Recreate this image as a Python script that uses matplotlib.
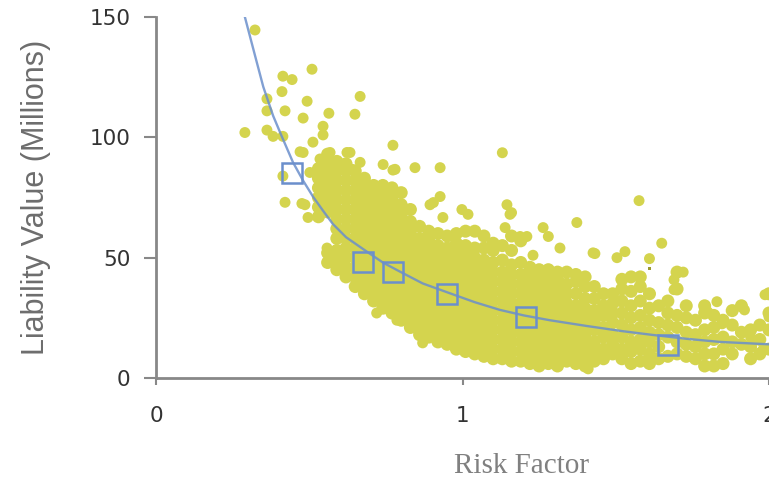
import matplotlib.pyplot as plt

# Scatter cloud (x, list of y)
cloud_cols_x = [0.53, 0.56, 0.59, 0.62, 0.65, 0.68, 0.71, 0.74, 0.77, 0.80,
                0.83, 0.86, 0.89, 0.92, 0.95, 0.98, 1.01, 1.04, 1.07, 1.10,
                1.13, 1.16, 1.19, 1.22, 1.25, 1.28, 1.31, 1.34, 1.37, 1.40,
                1.43, 1.46, 1.49, 1.52, 1.55, 1.58, 1.61, 1.64, 1.67, 1.70,
                1.73, 1.76, 1.79, 1.82, 1.85, 1.88, 1.91, 1.94, 1.97, 2.00]
cloud_cols_y = [
    [67, 71, 75, 79, 83, 87],
    [48, 52, 69, 73, 77, 81, 85, 89, 93],
    [45, 49, 53, 58, 62, 66, 70, 74, 78, 82, 86, 90],
    [42, 46, 50, 54, 58, 62, 66, 70, 74, 78, 82, 86, 89],
    [38, 42, 46, 50, 54, 58, 62, 66, 70, 74, 78, 82, 86],
    [35, 39, 43, 47, 51, 55, 59, 63, 67, 71, 75, 79, 83],
    [32, 36, 40, 44, 48, 52, 56, 60, 64, 68, 72, 76, 80],
    [29, 33, 37, 41, 45, 49, 53, 57, 61, 65, 69, 73, 77, 80],
    [27, 31, 35, 39, 43, 47, 51, 55, 59, 63, 67, 71, 75, 79],
    [24, 28, 32, 36, 40, 44, 48, 52, 56, 60, 64, 68, 72, 77],
    [21, 25, 29, 33, 37, 41, 45, 49, 53, 57, 61, 65, 70],
    [18, 22, 26, 30, 34, 38, 42, 46, 50, 54, 58, 63],
    [17, 21, 25, 29, 33, 37, 41, 45, 49, 53, 57, 61],
    [15, 19, 23, 27, 31, 35, 39, 43, 47, 51, 55, 60],
    [14, 18, 22, 26, 30, 34, 38, 42, 46, 50, 54, 59],
    [12, 16, 20, 24, 28, 32, 36, 40, 44, 48, 52, 56, 60],
    [11, 15, 19, 23, 27, 31, 35, 39, 43, 47, 51, 55, 61],
    [10, 14, 18, 22, 26, 30, 34, 38, 42, 46, 50, 54, 61],
    [9, 13, 17, 21, 25, 29, 33, 37, 41, 45, 49, 54, 59],
    [8, 12, 16, 20, 24, 28, 32, 36, 40, 44, 48, 53, 56],
    [8, 12, 16, 20, 24, 28, 32, 36, 40, 44, 49, 55],
    [7, 11, 15, 19, 23, 27, 31, 35, 39, 43, 47, 53, 59],
    [7, 11, 15, 19, 23, 27, 31, 35, 39, 43, 48, 57],
    [6, 10, 14, 18, 22, 26, 30, 34, 38, 42, 46],
    [5, 9, 13, 17, 21, 25, 29, 33, 37, 41, 45],
    [6, 10, 14, 18, 22, 26, 30, 34, 38, 42, 45],
    [5, 9, 13, 17, 21, 25, 29, 33, 37, 41, 44],
    [7, 11, 15, 19, 23, 27, 31, 35, 39, 44],
    [6, 10, 14, 18, 22, 26, 30, 35, 40, 43],
    [5, 9, 13, 17, 21, 25, 29, 33, 38, 42],
    [7, 11, 15, 20, 24, 28, 33, 38],
    [8, 12, 17, 21, 26, 30, 35],
    [10, 14, 18, 23, 27, 31, 35],
    [8, 12, 17, 22, 27, 32, 37, 41],
    [6, 11, 15, 20, 25, 30, 36, 42],
    [7, 12, 16, 21, 26, 32, 38, 42],
    [6, 10, 15, 19, 24, 29, 35],
    [8, 13, 18, 23, 30],
    [9, 17, 22, 27, 32],
    [10, 15, 21, 26, 37, 44],
    [9, 14, 19, 25, 30],
    [8, 13, 18, 24],
    [5, 10, 15, 20, 27, 30],
    [5, 10, 16, 21, 26],
    [6, 12, 17, 24],
    [10, 15, 22, 28],
    [14, 19, 30],
    [8, 13, 20],
    [10, 16, 22],
    [12, 20, 27, 35],
]

# Scattered outlying points
outlier_x = [0.323, 0.509, 0.414, 0.444, 0.411, 0.493, 0.666, 0.362, 0.421, 0.362,
             0.564, 0.649, 0.480, 0.290, 0.362, 0.382, 0.414, 0.545, 0.545, 0.512,
             0.773, 1.130, 0.480, 0.568, 0.633, 0.545, 0.666, 0.741, 0.773, 0.845,
             0.927, 0.414, 0.502, 0.421, 0.476, 0.894, 0.905, 0.998, 0.936, 1.145,
             1.160, 1.139, 1.373, 1.263, 1.280, 1.426, 1.318, 1.576, 1.650, 1.530,
             1.432, 1.610, 1.504, 1.210, 1.230, 1.720, 1.690, 1.690, 1.987, 1.830,
             1.920, 1.800, 1.847, 2.000, 1.980, 1.940, 1.410, 1.310, 0.720, 0.786,
             0.870, 0.486, 0.496, 0.558, 0.780, 0.927, 1.018, 1.155, 1.188, 0.470,
             0.535, 0.623, 0.640, 0.656, 0.590, 0.545]
outlier_y = [144.6, 128.3, 125.4, 124.0, 119.0, 115.0, 117.0, 116.0, 111.0, 111.0,
             110.0, 109.6, 108.0, 102.0, 103.0, 100.4, 100.4, 104.6, 101.0, 98.0,
             96.7, 93.6, 93.7, 93.7, 93.7, 89.6, 89.6, 88.7, 86.4, 87.4,
             87.4, 83.9, 85.4, 73.0, 72.5, 72.0, 72.9, 70.0, 66.7, 72.0,
             68.7, 62.5, 64.6, 62.5, 58.8, 52.0, 54.0, 73.7, 56.0, 52.5,
             51.7, 49.6, 50.0, 58.8, 51.0, 44.0, 40.8, 36.7, 34.6, 31.7,
             28.3, 27.5, 22.5, 25.4, 11.7, 17.0, 3.8, 6.1, 27.0, 24.0,
             14.6, 72.0, 66.7, 54.0, 86.7, 75.4, 68.0, 68.0, 58.8, 94.0,
             91.0, 93.7, 86.7, 82.5, 82.5, 85.4]

# Fitted trend curve
curve_x = [0.29, 0.323, 0.35, 0.382, 0.41, 0.447, 0.48, 0.512, 0.545, 0.577,
           0.62, 0.688, 0.74, 0.796, 0.87, 0.959, 1.04, 1.122, 1.2, 1.285,
           1.406, 1.52, 1.62, 1.73, 1.84, 2.0]
curve_y = [150, 134, 121, 109, 100.5, 89.6, 82, 75.4, 69.5, 64,
           58.5, 52.5, 48, 44.2, 39.3, 35.2, 31.5, 28.3, 26, 24,
           21.6, 19.5, 17.9, 16.3, 15, 14.0]

# Highlighted square markers
square_x = [0.444, 0.675, 0.774, 0.950, 1.207, 1.670]
square_y = [85.0, 48.3, 44.2, 35.0, 25.4, 13.8]

x_ticks = [0, 1, 2]
y_ticks = [0, 50, 100, 150]

dot_color = '#d4d44e'
line_color = '#6b8fcc'
axis_gray = '#888888'

fig = plt.figure(figsize=(7.69, 4.80), dpi=100)
ax = fig.add_axes([156 / 769, 102 / 480, 613 / 769, 361 / 480])

cx = []
cy = []
for x, ys in zip(cloud_cols_x, cloud_cols_y):
    for y in ys:
        cx.append(x)
        cy.append(y)
ax.scatter(cx, cy, s=88, color=dot_color, edgecolors='none', zorder=2)
ax.scatter(outlier_x, outlier_y, s=62, color=dot_color, edgecolors='none', zorder=2)
ax.scatter([1.61], [45.5], s=8, marker='s', color='#9a9a30', edgecolors='none', zorder=2)

ax.plot(curve_x, curve_y, color=line_color, lw=1.7, alpha=0.85, zorder=3)
ax.plot(square_x, square_y, linestyle='', marker='s', markersize=15,
        markerfacecolor='none', markeredgecolor=line_color, markeredgewidth=1.8, zorder=4)

ax.set_xlim(0, 2)
ax.set_ylim(0, 150)
ax.set_xticks(x_ticks)
ax.set_yticks(y_ticks)

for side in ['top', 'right']:
    ax.spines[side].set_visible(False)
for side in ['left', 'bottom']:
    ax.spines[side].set_color(axis_gray)
    ax.spines[side].set_linewidth(2)
ax.tick_params(axis='y', length=8.5, width=1.5, color=axis_gray, pad=10,
               labelsize=15.5, labelcolor='#333333')
ax.tick_params(axis='x', length=5, width=1.5, color=axis_gray, pad=15,
               labelsize=15.5, labelcolor='#333333')

ax.set_ylabel('Liability Value (Millions)', family=['Liberation Sans', 'DejaVu Sans'],
              fontsize=22, color='#6d6d6d', ha='center', va='center')
ax.yaxis.set_label_coords(-0.196, 0.5)
ax.set_xlabel('Risk Factor', family=['Liberation Serif', 'DejaVu Serif'],
              fontsize=21, color='#808080', ha='center', va='center')
ax.xaxis.set_label_coords(0.597, -0.245)

plt.savefig('out.png', dpi=100)
plt.close()
